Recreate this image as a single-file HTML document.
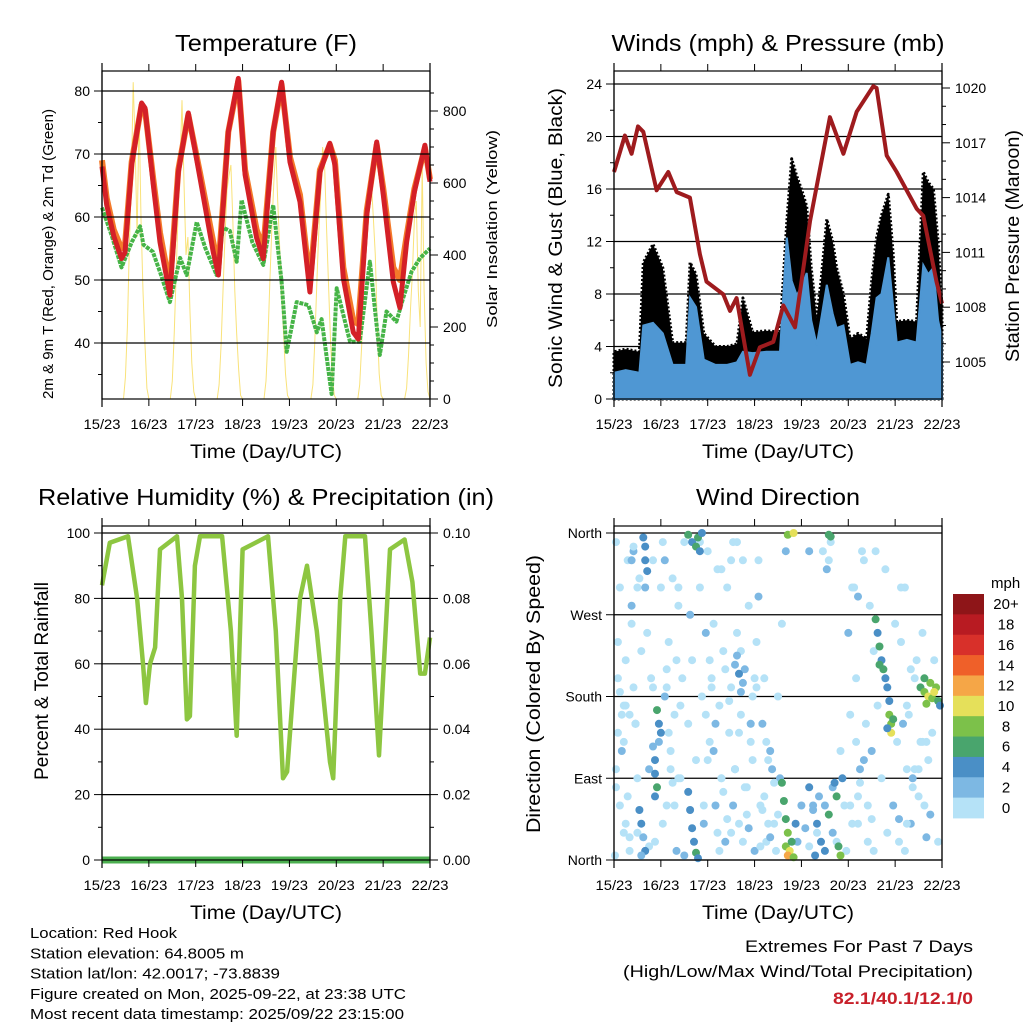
<!DOCTYPE html>
<html><head><meta charset="utf-8">
<style>
html,body{margin:0;padding:0;background:#fff;}
svg{display:block;font-family:"Liberation Sans",sans-serif;}
</style></head>
<body>
<svg id="c" width="1024" height="1024" viewBox="0 0 1024 1024" xmlns="http://www.w3.org/2000/svg"></svg>
<script>
// ---------- DATA ----------
const dayLabels = ["15/23","16/23","17/23","18/23","19/23","20/23","21/23","22/23"];
const tempHours = [0,2.4,6,10,11.8,15.2,20.3,22,26.3,29.7,34.8,39.1,44.2,50.2,57,59.6,64.7,69.8,73.3,79.2,82.6,87.7,92,96.3,101.4,106.5,111.6,116.7,119.3,123.6,128.7,131.3,135.6,140.7,144.1,149.2,152.6,156,160,165.4,168];
const temp2m    = [68,61.9,57,53.4,54.4,68.3,78.1,77.3,65.1,56,47.6,67.1,76.5,66.2,54.4,50.8,73.5,82,66.7,56.7,53.4,73.5,81.4,68.7,62.4,48.1,67.1,71.7,68.3,50.3,41.7,40.6,60.3,71.9,63.5,49.7,45.6,56,64,71.4,65.6];
const temp9m    = [69,63,58,55,55.5,68.8,77.8,77,66,57.5,49,67.5,76.2,67,56,52,73.5,81.6,67.5,58,55,73.5,81,69.5,63.5,49.5,67.5,71.5,69,52,43.5,43,61,71.5,64.5,52,50,57,64.5,71,66];
const dewHours  = [0,5,10,15.2,19.5,21.2,26,30,34.8,40,43.4,48.5,53,58.7,62,65.5,69,71.5,77,82.6,87.7,92,94.6,99.7,105.7,110,112.5,117.6,120.2,127,132,137.2,142.3,145.7,150.8,154.2,158.5,163,168];
const dewPoint  = [61.5,57,52,56,58.5,55.6,54.5,51,46.5,53.5,50.8,59.2,55,50.8,58.3,57.8,52.9,62.7,56,52.4,61.9,49.7,38.6,46.5,46,41.7,43.8,31.9,48.7,40.2,40.2,52.9,38.1,45,43.4,47.1,51.3,53.5,55];
const solarStartHour = 11;
const solarDay0 = [0,60,200,420,600,880,700,450,800,500,300,150,30,0];
const solarDay1 = [0,50,180,350,520,650,830,600,400,450,250,100,20,0];
const solarDay2 = [0,40,150,300,450,580,620,650,500,300,180,80,10,0];
const solarDay3 = [0,50,170,330,480,600,700,550,420,300,180,70,10,0];
const solarDay4 = [0,40,160,320,460,570,700,650,480,320,170,60,10,0];
const solarDay5 = [0,40,150,300,450,560,620,600,500,400,200,70,10,0];
const solarDay6 = [0,30,120,250,350,500,550,300,200,650,300,100,20,0];
const windHours = [0,6,13,15,20,25,30,37,39,42,46,52,58,63,66,71,78,85,88.5,91,93.6,96,98.7,101,103.8,106,109,112,114,117.5,120.9,125,129.4,132,134.5,137,140.5,143,144.8,150,155,158.4,161,163.6,166,168];
const windMean  = [2,2.2,2,5.6,5.8,5,2.6,2.6,7.7,7,3,2.6,2.6,2.8,3.6,3.5,3.6,3.6,12.3,9,7.9,8.5,9.6,6,4.1,6,8.7,6.5,5.4,5.6,2.6,2.8,2.6,5,7.7,8,10.8,7,4.3,4.5,4.3,10.2,9.5,10,6,4.6];
const windGust  = [3.6,3.8,3.6,10.4,11.8,10,4.3,4.3,10.4,9.5,5,4,4,4.2,7.7,5.1,5.2,5.1,13.5,18.3,17,16,14.7,10,6.2,9,13.7,12,10,8,4.6,5,4.6,9,12.3,14,15.6,11,5.9,6,5.9,17.3,16.5,16,12,7];
const presHours = [0,5.6,9,12.3,15,21.8,27.8,32.1,38.9,44,47.4,56,59.4,62.8,69.6,74.7,81.6,86.7,92.7,100.4,110.6,117.5,124.3,132.8,134.5,139.7,144.8,155,158.4,165.2,168];
const pressure  = [1015.4,1017.4,1016.4,1017.9,1017.6,1014.4,1015.4,1014.3,1014,1010.9,1009.4,1008.7,1007.8,1008.5,1004.3,1005.8,1006.1,1008.1,1006.9,1012.7,1018.4,1016.4,1018.7,1020.1,1020,1016.3,1015.4,1013.4,1013,1009.4,1008.2];
const rhHours = [0,4,13.3,18,21,22.5,24.6,27.2,29.7,38.4,41,43.5,45,47.6,50.2,61.5,66,69,72,85,89,92.7,94.8,101.4,105,110,116.8,118.4,122,124.6,134.7,138,141.9,147.5,155,159,163,165.4,168];
const rhValue = [84,97,99,80,60,48,60,65,95,99,80,43,44,90,99,99,70,38,95,99,70,25,27,80,90,70,30,25,80,99,99,70,32,95,98,85,57,57,68];
const precipHours = [0,168];
const precipTotal = [0,0];
const dirHours = [1,3,2,5,4,6,8,7,9,10,11,12,3,1,6,8,10,13,14,12,17,18,19,20,21,24,25,26,27,28,29,30,31,32,33,34,35,36,38,39,40,42,44,45,46,48,49,50,51,52,53,54,55,56,57,58,59,60,61,62,63,64,65,66,67,68,69,70,71,72,73,74,75,76,77,78,80,82,84,85,86,88,110,112,114,116,118,120,121,122,124,125,126,128,129,130,131,132,133,135,137,139,143,145,147,149,150,152,154,156,158,160,162,164,166,150,140,100,104,108,2,5,9,20,27,33,47,55,60,70,74,79,125,133,146,153,
 0.5,2,4,5,7,9,11,1,3,6,8,10,12,18,20,25,27,29,31,33,26,28,30,32,34,36,44,46,48,50,52,54,56,58,47,49,51,53,55,57,59,61,60,62,64,66,68,70,72,63,65,67,69,71,73,75,77,79,81,83,76,78,80,82,84,94,96,98,100,102,107,109,111,119,121,123,125,127,122,124,126,128,130,132,134,144,146,148,150,152,154,156,158,160,147,149,151,153,155,157,159,161,163,
 15,16,16,17,16,38,40,42,44,43,45,22,23,24,23,21,21,22,21,13,14,15,16,14,38,39,40,41,42,43,62,64,66,63,65,86,87,88,89,88,90,89,91,92,93,100,102,104,106,108,110,112,114,115,116,117,113,105,103,134,135,136,137,138,139,140,136,141,141,142,142,143,140,157,159,161,163,165,166,162,160,164,167,159,89,92,110,111];
const dirDegrees = [350,300,200,170,120,40,10,330,260,190,150,90,60,100,220,160,340,310,230,30,250,100,200,330,20,300,350,180,60,240,120,310,160,10,280,90,200,350,150,270,220,110,300,180,40,340,130,200,260,60,320,170,90,230,20,300,140,190,350,100,250,40,160,330,210,80,280,130,180,10,240,330,60,150,200,20,120,40,180,90,260,340,330,80,20,120,60,250,160,300,200,40,100,330,150,60,280,120,10,170,90,320,60,130,240,300,170,40,200,100,250,130,50,220,20,100,30,340,30,60,240,130,280,190,210,90,250,320,30,150,290,110,70,230,45,80,
 5,140,160,30,70,330,150,80,185,170,25,345,300,15,125,40,190,100,60,300,330,140,85,220,170,5,350,60,110,190,150,10,75,45,160,220,120,30,90,210,175,60,330,100,140,20,50,150,200,350,230,80,35,110,190,15,70,40,100,10,55,130,25,85,50,20,60,35,15,55,340,320,350,10,60,300,290,340,40,130,85,110,20,45,340,260,20,150,40,210,100,70,130,25,300,10,160,90,220,130,60,110,140,
 355,345,330,318,300,358,350,345,340,355,360,165,150,140,130,110,95,80,70,55,40,25,10,5,75,55,35,20,8,2,215,205,195,225,185,85,65,45,30,15,10,5,20,3,40,80,60,40,20,10,50,30,70,15,5,90,85,70,5,265,250,235,220,210,200,190,215,175,160,150,140,155,145,190,185,180,178,190,175,195,172,185,170,200,358,360,358,356];
const dirSpeed = [0,0,1,0,2,0,0,1,0,0,2,0,0,0,1,0,2,0,0,1,0,2,0,0,1,0,0,2,0,0,1,0,0,2,0,0,1,0,0,2,0,1,0,0,2,0,0,1,0,2,0,0,1,0,2,0,0,1,0,2,0,0,1,0,2,0,0,1,0,2,0,0,1,2,0,0,2,0,1,2,0,2,0,2,0,1,0,2,0,0,1,0,2,0,0,1,0,2,0,0,1,0,2,0,0,1,0,2,0,0,1,0,2,0,0,1,0,2,0,2,1,0,2,0,1,0,2,0,1,0,2,0,1,0,2,0,
 0,0,1,0,0,2,0,0,1,0,0,0,1,0,2,0,0,1,0,0,2,0,0,1,0,2,0,0,1,0,2,0,0,1,0,0,2,0,0,1,0,2,0,0,1,0,0,2,0,0,1,0,2,0,0,1,0,0,2,0,1,0,2,0,0,2,3,2,1,3,0,2,1,0,1,0,2,0,0,1,0,2,0,0,1,0,0,2,0,0,1,0,0,2,0,1,0,2,0,0,1,0,0,
 4,4,4,4,3,6,4,6,4,7,4,6,4,4,3,5,4,6,4,4,4,3,4,3,4,4,5,4,6,4,3,4,3,2,2,6,6,7,8,9,10,12,7,8,5,4,3,4,5,4,6,3,6,7,8,4,5,3,4,6,4,6,4,7,4,5,6,4,8,9,10,7,4,7,9,10,8,9,7,8,9,10,4,6,8,10,7,6];
const cbLabels = ["20+","18","16","14","12","10","8","6","4","2","0"];
const cbColors = ["#8e1518","#b81b22","#d8302a","#ef6029","#f5a647","#e5e05a","#7cc14a","#49a56d","#4a8fc6","#7db8e3","#b5e2f7"];

// ---------- HELPERS ----------
const svg = document.getElementById('c');
const NS = "http://www.w3.org/2000/svg";
function el(tag, attrs, parent){
  const e = document.createElementNS(NS, tag);
  for (const k in attrs) e.setAttribute(k, attrs[k]);
  (parent||svg).appendChild(e);
  return e;
}
function txt(s, x, y, size, anchor, len, parent, rot, name){
  const a = {x:x, y:y, 'font-size':size, 'text-anchor':anchor||'start', fill:'#000'};
  if (len) { a.textLength = len; a.lengthAdjust = 'spacingAndGlyphs'; }
  if (rot) a.transform = 'rotate(-90 '+x+' '+y+')';
  const t = el('text', a, parent);
  t.textContent = s;
  
  
  return t;
}
function makeX(x0, x1){ return t => x0 + t*(x1-x0)/168; }
function makeY(v0, y0, v1, y1){ return v => y0 + (v-v0)*(y1-y0)/(v1-v0); }
function poly(xs, ys, X, Y, attrs, parent){
  let d = '';
  for (let i=0;i<xs.length;i++) d += (i?'L':'M') + X(xs[i]).toFixed(1) + ',' + Y(ys[i]).toFixed(1);
  attrs.d = d; attrs.fill = attrs.fill || 'none';
  return el('path', attrs, parent);
}
function frame(g, x0, y0, x1, y1){
  const r = el('rect', {x:x0, y:y0, width:x1-x0, height:y1-y0, fill:'none', stroke:'#000', 'stroke-width':1.2}, g);
  
  
  el('line',{x1:x0,y1:y0-8,x2:x0,y2:y1+8,stroke:'#000','stroke-width':1.2},g);
  el('line',{x1:x1,y1:y0-8,x2:x1,y2:y1+8,stroke:'#000','stroke-width':1.2},g);
  const X = makeX(x0, x1);
  for (let d=0; d<=7; d++){
    const x = X(d*24);
    el('line',{x1:x,y1:y1,x2:x,y2:y1+7,stroke:'#000','stroke-width':1},g);
    el('line',{x1:x,y1:y0,x2:x,y2:y0-7,stroke:'#000','stroke-width':1},g);
    txt(dayLabels[d], x, y1+30, 14, 'middle', 37, g, false, 'x-tick-label');
  }
  txt('Time (Day/UTC)', (x0+x1)/2, y1+59, 19, 'middle', 152, g, false, 'x-axis-title');
}
function leftTicks(g, x0, x1, Y, vals, labels, grid){
  vals.forEach((v,i)=>{
    const y = Y(v);
    el('line',{x1:x0-8,y1:y,x2:x0,y2:y,stroke:'#000','stroke-width':1},g);
    if (grid) el('line',{x1:x0,y1:y,x2:x1,y2:y,stroke:'#000','stroke-width':1.2},g);
    txt(labels[i], x0-12, y+5, 14, 'end', null, g, false, 'y-tick-label');
  });
}
function rightTicks(g, x1, Y, vals, labels){
  vals.forEach((v,i)=>{
    const y = Y(v);
    el('line',{x1:x1,y1:y,x2:x1+8,y2:y,stroke:'#000','stroke-width':1},g);
    txt(labels[i], x1+13, y+5, 14, 'start', null, g, false, 'y2-tick-label');
  });
}
function minorTicks(g, x, Y, vals, dir){
  vals.forEach(v=>{ const y=Y(v); el('line',{x1:x,y1:y,x2:x+dir*4,y2:y,stroke:'#000','stroke-width':1},g); });
}

// ---------- PANEL 1 ----------
(function(){
  const g = el('g',{});
  
  
  const X = makeX(102,430);
  const Y = makeY(80,91,40,343);
  const YS = makeY(0,399,800,111);
  const solarDays = [solarDay0,solarDay1,solarDay2,solarDay3,solarDay4,solarDay5,solarDay6];
  solarDays.forEach((arr,d)=>{
    const hs = arr.map((v,i)=> d*24 + solarStartHour + i);
    const p = poly(hs, arr, X, YS, {stroke:'#f9e27a','stroke-width':1},g);
    
    
  });
  const po = poly(tempHours, temp9m, X, Y, {stroke:'#f47a2a','stroke-width':6,'stroke-linejoin':'round'}, g);
  
  
  const pg = poly(dewHours, dewPoint, X, Y, {stroke:'#46b447','stroke-width':4,'stroke-dasharray':'4 1','stroke-linejoin':'round'}, g);
  
  
  const pr = poly(tempHours, temp2m, X, Y, {stroke:'#d42027','stroke-width':5,'stroke-linejoin':'round'}, g);
  
  
  el('rect',{x:102,y:60,width:328,height:11,fill:'#fff'},g);
  frame(g,102,71,430,399);
  leftTicks(g,102,430,Y,[80,70,60,50,40],["80","70","60","50","40"],true);
  minorTicks(g,102,Y,[75,65,55,45,35],-1);
  rightTicks(g,430,YS,[0,200,400,600,800],["0","200","400","600","800"]);
  minorTicks(g,430,YS,[50,100,150,250,300,350,450,500,550,650,700,750,850],1);
  txt('Temperature (F)', 266, 51, 23, 'middle', 182, g, false, 'temperature-title');
  txt('2m & 9m T (Red, Orange) & 2m Td (Green)', 53, 254, 15, 'middle', 290, g, true, 'temperature-y-axis-title');
  txt('Solar Insolation (Yellow)', 497, 229, 15, 'middle', 198, g, true, 'solar-y-axis-title');
})();

// ---------- PANEL 2 ----------
(function(){
  const g = el('g',{});
  
  
  const X = makeX(614,942);
  const Y = makeY(0,399,24,84);
  const YP = makeY(1005,362,1020,88);
  leftTicks(g,614,942,Y,[0,4,8,12,16,20,24],["0","4","8","12","16","20","24"],true);
  let d = 'M'+X(windHours[0])+','+Y(0);
  windHours.forEach((h,i)=>{ d += 'L'+X(h).toFixed(1)+','+Y(windGust[i]).toFixed(1); });
  d += 'L'+X(windHours[windHours.length-1])+','+Y(0)+'Z';
  const ga = el('path',{d:d, fill:'#000', stroke:'#000','stroke-width':3,'stroke-linejoin':'round','stroke-dasharray':'2 2'},g);
  
  
  let d2 = 'M'+X(windHours[0])+','+Y(0);
  windHours.forEach((h,i)=>{ d2 += 'L'+X(h).toFixed(1)+','+Y(windMean[i]).toFixed(1); });
  d2 += 'L'+X(windHours[windHours.length-1])+','+Y(0)+'Z';
  const wa = el('path',{d:d2, fill:'#4f97d3', stroke:'#4f97d3','stroke-width':2},g);
  
  
  const pp = poly(presHours, pressure, X, YP, {stroke:'#9e1b1e','stroke-width':4,'stroke-linejoin':'round'}, g);
  
  
  el('rect',{x:614,y:60,width:328,height:11,fill:'#fff'},g);
  frame(g,614,71,942,399);
  minorTicks(g,614,Y,[2,6,10,14,18,22],-1);
  rightTicks(g,942,YP,[1005,1008,1011,1014,1017,1020],["1005","1008","1011","1014","1017","1020"]);
  minorTicks(g,942,YP,[1006,1007,1009,1010,1012,1013,1015,1016,1018,1019],1);
  txt('Winds (mph) & Pressure (mb)', 778, 51, 23, 'middle', 333, g, false, 'winds-title');
  txt('Sonic Wind & Gust (Blue, Black)', 562, 238, 19, 'middle', 300, g, true, 'wind-y-axis-title');
  txt('Station Pressure (Maroon)', 1019, 246, 19, 'middle', 232, g, true, 'pressure-y-axis-title');
})();

// ---------- PANEL 3 ----------
(function(){
  const g = el('g',{});
  
  
  const X = makeX(102,430);
  const Y = makeY(0,860,100,533);
  const YR = makeY(0,860,0.1,533);
  leftTicks(g,102,430,Y,[0,20,40,60,80,100],["0","20","40","60","80","100"],true);
  minorTicks(g,102,Y,[10,30,50,70,90],-1);
  rightTicks(g,430,YR,[0,0.02,0.04,0.06,0.08,0.1],["0.00","0.02","0.04","0.06","0.08","0.10"]);
  minorTicks(g,430,YR,[0.01,0.03,0.05,0.07,0.09],1);
  const rl = poly(rhHours, rhValue, X, Y, {stroke:'#8dc641','stroke-width':4.5,'stroke-linejoin':'round'}, g);
  
  
  const pl = poly(precipHours, precipTotal, X, YR, {stroke:'#4caf50','stroke-width':7}, g);
  
  
  el('rect',{x:102,y:518,width:328,height:7,fill:'#fff'},g);
  frame(g,102,526,430,860);
  txt('Relative Humidity (%) & Precipitation (in)', 266, 505, 23, 'middle', 456, g, false, 'humidity-title');
  txt('Percent & Total Rainfall', 48, 681, 19, 'middle', 198, g, true, 'humidity-y-axis-title');
})();

// ---------- PANEL 4 ----------
(function(){
  const g = el('g',{});
  
  
  const X = makeX(614,942);
  const Y = makeY(0,860,360,533);
  const names = ["North","East","South","West","North"];
  leftTicks(g,614,942,Y,[0,90,180,270,360],names,true);
  function colorFor(s){ let i = Math.min(10, Math.floor(s/2)); return cbColors[10-i]; }
  for (let i=0;i<dirHours.length;i++){
    const c = el('circle',{cx:X(dirHours[i]).toFixed(1), cy:Y(dirDegrees[i]).toFixed(1), r:4, fill:colorFor(dirSpeed[i])},g);
    
    
  }
  frame(g,614,526,942,860);
  txt('Wind Direction', 778, 505, 23, 'middle', 164, g, false, 'wind-direction-title');
  txt('Direction (Colored By Speed)', 540, 694, 19, 'middle', 278, g, true, 'direction-y-axis-title');
  txt('mph', 991, 588, 15, 'start', null, g, false, 'colorbar-unit');
  const bh = (818-594)/cbColors.length;
  cbColors.forEach((col,i)=>{
    const r = el('rect',{x:953, y:594+i*bh, width:31, height:bh+0.4, fill:col},g);
    
    
    txt(cbLabels[i], 1006, 594+i*bh+bh/2+5, 15, 'middle', null, g, false, 'colorbar-label');
  });
})();

// ---------- FOOTER ----------
(function(){
  const g = el('g',{});
  
  
  const lines = ["Location: Red Hook","Station elevation: 64.8005 m","Station lat/lon: 42.0017; -73.8839","Figure created on Mon, 2025-09-22, at 23:38 UTC","Most recent data timestamp: 2025/09/22 23:15:00"];
  const widths = [147,214,250,376,374];
  lines.forEach((s,i)=> txt(s, 30, 938 + i*20.3, 15, 'start', widths[i], g, false, 'station-info-line'));
  txt('Extremes For Past 7 Days', 973, 952, 17, 'end', 228, g, false, 'extremes-heading');
  txt('(High/Low/Max Wind/Total Precipitation)', 973, 977, 17, 'end', 350, g, false, 'extremes-subheading');
  const v = txt('82.1/40.1/12.1/0', 973, 1004, 17, 'end', 140, g, false, 'extremes-values');
  v.setAttribute('fill','#c8202a'); v.setAttribute('font-weight','bold');
})();
</script>
</body></html>
